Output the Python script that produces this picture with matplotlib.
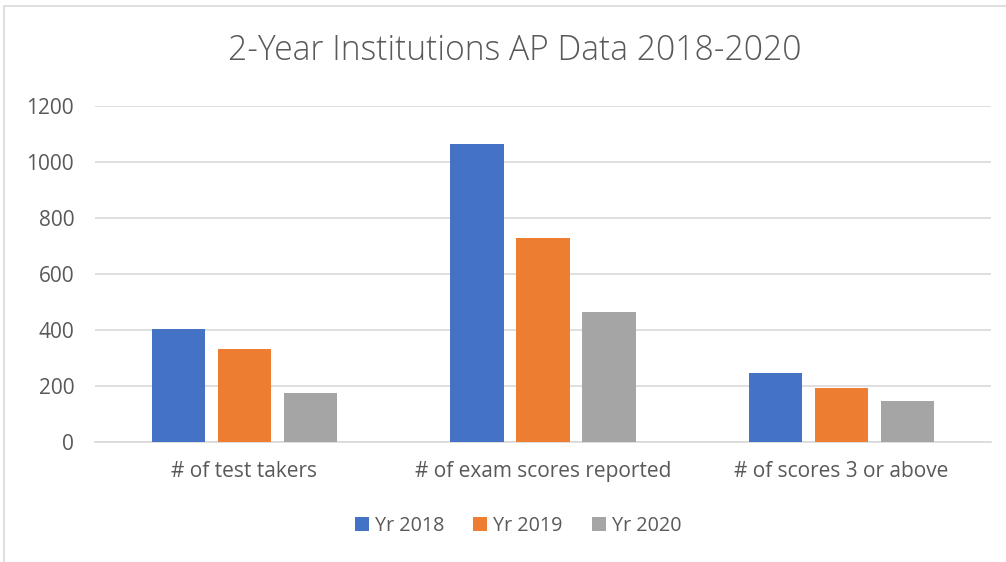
import numpy as np
import matplotlib.pyplot as plt
from matplotlib.patches import Rectangle

# data
categories = ['# of test takers', '# of exam scores reported', '# of scores 3 or above']
yr_2018 = [405, 1065, 245]
yr_2019 = [333, 727, 192]
yr_2020 = [174, 466, 146]
series_names = ['Yr 2018', 'Yr 2019', 'Yr 2020']
colors = ['#4472C4', '#ED7D31', '#A5A5A5']

plt.rcParams['font.family'] = ['Open Sans', 'DejaVu Sans']
text_color = '#595959'

fig = plt.figure(figsize=(10.06, 5.62), dpi=100)
ax = fig.add_axes([0.0944, 0.2135, 0.8907, 0.5979])

x = np.arange(len(categories))
width = 0.178
offset = 0.221
for i, (vals, name, c) in enumerate(zip([yr_2018, yr_2019, yr_2020], series_names, colors)):
    ax.bar(x + (i - 1) * offset, vals, width, color=c, label=name, zorder=3)

ax.set_xlim(-0.5, 2.5)
ax.set_ylim(0, 1200)
ax.set_yticks(range(0, 1201, 200))
ax.set_xticks(x)
ax.set_xticklabels(categories, fontsize=15)
ax.yaxis.grid(True, color='#d9d9d9', linewidth=1.2, zorder=0)
ax.tick_params(axis='both', length=0, colors=text_color)
ax.tick_params(axis='y', pad=15, labelsize=15)
ax.tick_params(axis='x', pad=14)
for s in ['top', 'right', 'left']:
    ax.spines[s].set_visible(False)
ax.spines['bottom'].set_color('#d9d9d9')
ax.spines['bottom'].set_linewidth(1.2)

fig.text(0.512, 0.909, '2-Year Institutions AP Data 2018-2020', ha='center', va='center',
         fontsize=24.2, color=text_color, fontweight='light')

leg = fig.legend(loc='center', bbox_to_anchor=(0.515, 0.064), ncol=3, frameon=False,
                 fontsize=14.2, handlelength=0.7, handleheight=0.7, handletextpad=0.3,
                 columnspacing=1.5)
for t in leg.get_texts():
    t.set_color(text_color)

# chart area border
fig.patches.append(Rectangle((0.004, -0.01), 1.0, 0.999, transform=fig.transFigure,
                             fill=False, edgecolor='#d9d9d9', linewidth=1.2))

fig.savefig('out.png', dpi=100)
plt.close()
